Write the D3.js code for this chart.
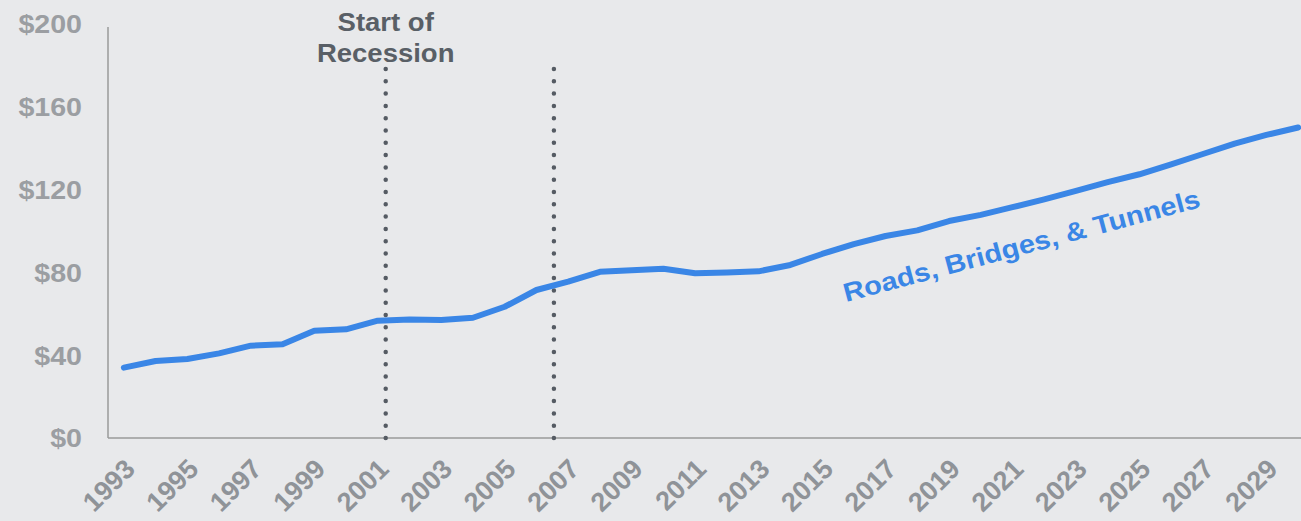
<!DOCTYPE html>
<html>
<head>
<meta charset="utf-8">
<script src="https://cdn.jsdelivr.net/npm/d3@7"></script>
<style>
  html, body { margin: 0; padding: 0; background: #e8e9eb; }
  svg { display: block; font-family: "Liberation Sans", Arial, sans-serif; font-weight: bold; }
</style>
</head>
<body>
<svg id="chart"></svg>
<script>
// data (billions)
const years = d3.range(1993, 2031);
const spending = [
  34.0, 37.2, 38.2, 40.9, 44.6, 45.3, 51.8, 52.5, 56.7, 57.3,
  57.0, 58.1, 63.4, 71.5, 75.5, 80.3, 81.0, 81.8, 79.6, 80.0,
  80.5, 83.6, 88.9, 93.7, 97.6, 100.3, 104.8, 107.8, 111.5, 115.3,
  119.4, 123.6, 127.4, 132.2, 137.2, 142.2, 146.4, 150.0
];
const yTicks = [0, 40, 80, 120, 160, 200];
const xLabels = d3.range(1993, 2030, 2);
const recessions = [2001.25, 2006.55];

const width = 1301, height = 521;
const margin = {top: 24, right: -13, bottom: 83, left: 108};

const svg = d3.select("#chart").attr("width", width).attr("height", height);

const x = d3.scaleBand()
    .domain(years)
    .range([margin.left, width - margin.right]);

// continuous scale across the band centers, for the recession markers
const xYear = d3.scaleLinear()
    .domain([years[0], years[years.length - 1]])
    .range([x(years[0]) + x.bandwidth() / 2, x(years[years.length - 1]) + x.bandwidth() / 2]);

const y = d3.scaleLinear()
    .domain([0, 200])
    .range([height - margin.bottom, margin.top]);

// axes lines
svg.append("line")
    .attr("x1", margin.left).attr("x2", margin.left)
    .attr("y1", y(200) + 3).attr("y2", y(0))
    .attr("stroke", "#9a9a9a").attr("stroke-width", 1.5);
svg.append("line")
    .attr("x1", margin.left).attr("x2", width)
    .attr("y1", y(0)).attr("y2", y(0))
    .attr("stroke", "#9a9a9a").attr("stroke-width", 1.5);

// y labels
svg.selectAll(".ylab")
    .data(yTicks)
    .enter()
    .append("text")
    .attr("class", "ylab")
    .attr("transform", d => "translate(82," + y(d) + ") scale(1.1,1)")
    .attr("dy", "0.36em")
    .attr("text-anchor", "end")
    .attr("fill", "#9b9ea2")
    .style("font-size", "26px")
    .text(d => "$" + d);

// x labels
svg.selectAll(".xlab")
    .data(xLabels)
    .enter()
    .append("text")
    .attr("class", "xlab")
    .attr("transform", d => "translate(" + (x(d) + x.bandwidth() / 2 + 6) + "," + (y(0) + 26) + ") rotate(-45)")
    .attr("dy", "0.35em")
    .attr("text-anchor", "end")
    .attr("fill", "#8f9398")
    .style("font-size", "27px")
    .text(d => d);

// recession markers
svg.selectAll(".rec")
    .data(recessions)
    .enter()
    .append("line")
    .attr("class", "rec")
    .attr("x1", d => xYear(d)).attr("x2", d => xYear(d))
    .attr("y1", y(0)).attr("y2", 67)
    .attr("stroke", "#555b63")
    .attr("stroke-width", 4.5)
    .attr("stroke-linecap", "round")
    .attr("stroke-dasharray", "0 12.3");

const note = svg.append("text")
    .attr("transform", "translate(" + xYear(recessions[0]) + ",0) scale(1.1,1)")
    .attr("text-anchor", "middle")
    .attr("fill", "#595f66")
    .style("font-size", "25px");
note.append("tspan").attr("x", 0).attr("y", 31).text("Start of");
note.append("tspan").attr("x", 0).attr("y", 62).text("Recession");

// the series
const line = d3.line()
    .x((d, i) => x(years[i]) + x.bandwidth() / 2)
    .y(d => y(d));

svg.append("path")
    .datum(spending)
    .attr("d", line)
    .attr("fill", "none")
    .attr("stroke", "#3a86e6")
    .attr("stroke-width", 6)
    .attr("stroke-linecap", "round")
    .attr("stroke-linejoin", "round");

svg.append("text")
    .attr("transform", "translate(846,302) rotate(-15) scale(1.12,1)")
    .attr("fill", "#3a86e6")
    .style("font-size", "26px")
    .text("Roads, Bridges, & Tunnels");
</script>
</body>
</html>
